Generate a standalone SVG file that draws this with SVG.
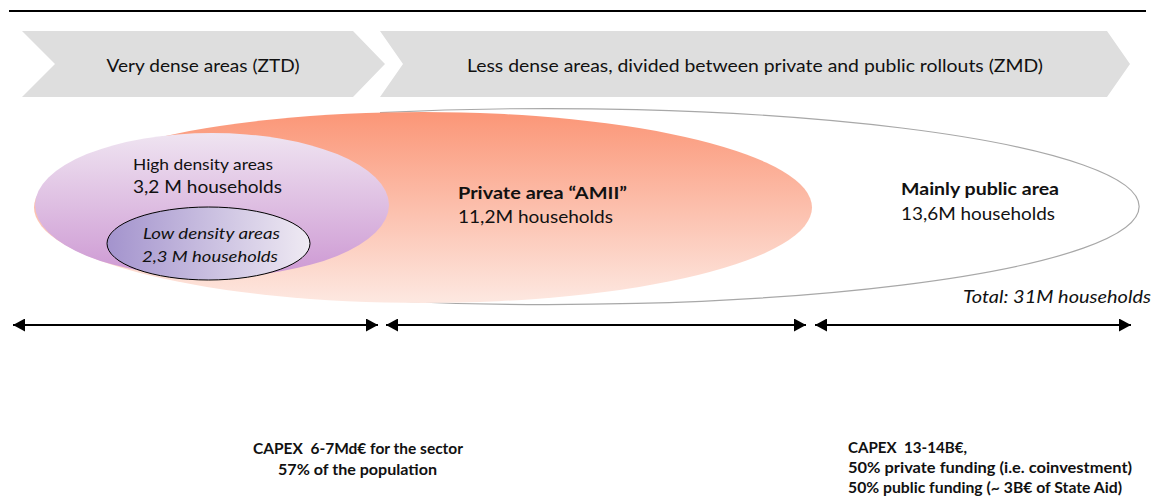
<svg xmlns="http://www.w3.org/2000/svg" width="1157" height="498" viewBox="0 0 1157 498">
  <style>
    text { font-family: Lato, "Open Sans", "Liberation Sans", sans-serif; fill: #111; }
    .title { font-size: 18px; text-anchor: middle; }
    .label { font-size: 17px; }
    .bold { font-weight: bold; }
    .ital { font-style: italic; }
    .note { font-size: 14.5px; font-weight: bold; white-space: pre; }
    .chevron { fill: #DEDEDE; }
    .span { stroke: #000; stroke-width: 2; fill: none; marker-start: url(#head); marker-end: url(#head); }
  </style>
  <defs>
    <linearGradient id="salmon" x1="0" y1="0" x2="0" y2="1">
      <stop offset="0" stop-color="#FB9677"/>
      <stop offset="1" stop-color="#FDE8E1"/>
    </linearGradient>
    <linearGradient id="lilac" x1="0" y1="0" x2="0" y2="1">
      <stop offset="0" stop-color="#EFE4F1"/>
      <stop offset="1" stop-color="#CD98D3"/>
    </linearGradient>
    <linearGradient id="violet" x1="0" y1="0" x2="1" y2="0">
      <stop offset="0" stop-color="#A393CD"/>
      <stop offset="1" stop-color="#EFEAF3"/>
    </linearGradient>
    <marker id="head" viewBox="0 0 12 13" refX="12" refY="6.5" markerWidth="12" markerHeight="13" markerUnits="userSpaceOnUse" orient="auto-start-reverse">
      <path d="M0,0 L12,6.5 L0,13 Z" fill="#000"/>
    </marker>
  </defs>

  <!-- header rule -->
  <line x1="9" y1="11" x2="1146" y2="11" stroke="#000" stroke-width="2.2"/>

  <!-- zone banners -->
  <g id="zone-ztd">
    <polygon class="chevron" points="22,31 353,31 385,64 353,97 22,97 55,64"/>
    <text class="title" x="203" y="72" textLength="193" lengthAdjust="spacingAndGlyphs">Very dense areas (ZTD)</text>
  </g>
  <g id="zone-zmd">
    <polygon class="chevron" points="380,31 1107,31 1130,64 1107,97 380,97 403,64"/>
    <text class="title" x="755" y="72" textLength="576" lengthAdjust="spacingAndGlyphs">Less dense areas, divided between private and public rollouts (ZMD)</text>
  </g>

  <!-- whole territory outline (right part of the outer ellipse) -->
  <g id="public-area">
    <path d="M380,112.6 A591,98 0 1 1 380,300.5" fill="none" stroke="#A8A8A8" stroke-width="1.2"/>
    <text class="label bold" x="901" y="195" textLength="158" lengthAdjust="spacingAndGlyphs">Mainly public area</text>
    <text class="label" x="901" y="220" textLength="154" lengthAdjust="spacingAndGlyphs">13,6M households</text>
  </g>

  <!-- private rollout area -->
  <g id="private-area">
    <ellipse cx="423" cy="207.5" rx="389" ry="95.5" fill="url(#salmon)"/>
    <text class="label bold" x="458" y="199" textLength="169" lengthAdjust="spacingAndGlyphs">Private area “AMII”</text>
    <text class="label" x="458" y="223" textLength="155" lengthAdjust="spacingAndGlyphs">11,2M households</text>
  </g>

  <!-- very dense areas -->
  <g id="high-density">
    <ellipse cx="212" cy="205" rx="177" ry="72" fill="url(#lilac)"/>
    <text style="font-size:16px" x="133" y="170" textLength="140" lengthAdjust="spacingAndGlyphs">High density areas</text>
    <text style="font-size:18px" x="133" y="193" textLength="149" lengthAdjust="spacingAndGlyphs">3,2 M households</text>
  </g>
  <g id="low-density">
    <ellipse cx="208.5" cy="243.5" rx="101.5" ry="36.5" fill="url(#violet)" stroke="#000" stroke-width="1"/>
    <text class="ital" style="font-size:16px" x="143" y="239" textLength="137" lengthAdjust="spacingAndGlyphs">Low density areas</text>
    <text class="ital" style="font-size:16px" x="142" y="262" textLength="136" lengthAdjust="spacingAndGlyphs">2,3 M households</text>
  </g>

  <g id="total">
    <text class="label ital" x="963" y="303" textLength="188" lengthAdjust="spacingAndGlyphs">Total: 31M households</text>
  </g>

  <!-- extent arrows -->
  <g id="connectors">
    <line class="span" x1="13" y1="325" x2="378" y2="325"/>
    <line class="span" x1="386" y1="325" x2="806" y2="325"/>
    <line class="span" x1="815" y1="325" x2="1131" y2="325"/>
  </g>

  <!-- funding notes -->
  <g id="note-ztd">
    <text class="note" x="358" y="454" text-anchor="middle" textLength="210" lengthAdjust="spacingAndGlyphs">CAPEX  6-7Md€ for the sector</text>
    <text class="note" x="357.5" y="475" text-anchor="middle" textLength="159" lengthAdjust="spacingAndGlyphs">57% of the population</text>
  </g>
  <g id="note-zmd">
    <text class="note" x="848" y="453" textLength="119" lengthAdjust="spacingAndGlyphs">CAPEX  13-14B€,</text>
    <text class="note" x="848" y="473" textLength="284" lengthAdjust="spacingAndGlyphs">50% private funding (i.e. coinvestment)</text>
    <text class="note" x="848" y="493" textLength="274" lengthAdjust="spacingAndGlyphs">50% public funding (~ 3B€ of State Aid)</text>
  </g>
</svg>
